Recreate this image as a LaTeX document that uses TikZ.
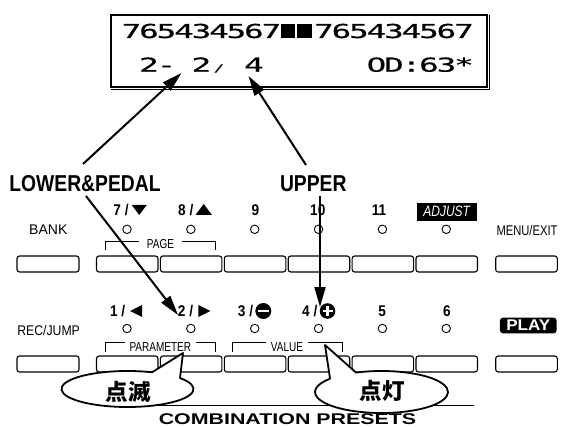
\documentclass[tikz,border=0pt]{standalone}
\usepackage{fontspec}
\usepackage{graphicx}
\usetikzlibrary{arrows.meta}
\setmainfont{Liberation Sans}
\newfontfamily\lcdfont{DejaVu Sans Mono}[FakeStretch=1.7,FakeBold=0.6]
\newfontfamily\narrowfont{Liberation Sans}[FakeStretch=0.8]
\newfontfamily\semifont{Liberation Sans}[FakeStretch=0.875]
\newfontfamily\brkfont{Liberation Sans}[FakeStretch=0.77]
\newfontfamily\condbold{Liberation Sans}[FakeStretch=0.88]
\newfontfamily\callfont{Liberation Sans}[FakeStretch=0.84]
\newfontfamily\widefont{Liberation Sans}[FakeStretch=1.38]
\newfontfamily\cjkfont{Noto Sans CJK JP}
\newcommand\lcdslash{{\fontsize{10}{10}\selectfont/}}
\def\lcdrun#1{\ifx#1\relax\else\makebox[17.5pt][c]{#1}\expandafter\lcdrun\fi}
\begin{document}
\begin{tikzpicture}[x=1pt,y=-1pt,
  btn/.style={draw,line width=1.1pt,rounded corners=2.5pt,minimum width=61.5pt,minimum height=16pt,inner sep=0pt},
  led/.style={draw,circle,line width=0.9pt,minimum size=8.5pt,inner sep=0pt},
  numlbl/.style={font=\condbold\bfseries\fontsize{15.5}{15.5}\selectfont,inner sep=0pt,anchor=base east},
  numc/.style={font=\condbold\bfseries\fontsize{15.5}{15.5}\selectfont,inner sep=0pt,anchor=base},
  brk/.style={line width=0.9pt},
  brklbl/.style={font=\brkfont\fontsize{13}{13}\selectfont,fill=white,inner ysep=1pt,anchor=base},
  sidelbl/.style={inner sep=0pt,anchor=base},
  arr/.style={line width=2pt,-{Triangle[length=20pt,width=11pt]}},
  bubble/.style={draw,fill=white,line width=1.8pt,line join=round},
  callout/.style={font=\callfont\bfseries\fontsize{23}{23}\selectfont,inner sep=0pt,anchor=base},
  lcdtext/.style={font=\lcdfont\fontsize{19.2}{19.2}\selectfont,inner sep=0pt,anchor=base west},
  cjk/.style={font=\cjkfont\bfseries\fontsize{22.5}{22.5}\selectfont,inner sep=0pt}
]
\useasboundingbox (0,0) rectangle (561,427);

% LCD display
\node[draw,line width=2pt,minimum width=376pt,minimum height=72pt,inner sep=0pt] (lcd) at (299,51) {};
\draw[line width=1.4pt] ([xshift=1.6pt,yshift=-1pt]lcd.north east) -- ([xshift=1.6pt,yshift=-1.6pt]lcd.south east) -- ([xshift=1pt,yshift=-1.6pt]lcd.south west);
\node[lcdtext] (l1) at (122.5,38) {\lcdrun 765434567~~765434567\relax};
\fill (280.5,24) rectangle (295,38);
\fill (297,24) rectangle (311.5,38);
\node[lcdtext] (l2) at (122.5,71.7) {\lcdrun ~2-~2\lcdslash~4~~~~~~OD:63*\relax};

% buttons and LEDs
\foreach \i in {0,...,5} {
  \pgfmathsetmacro\bx{127.25+63.9*\i}
  \node[btn] (ub\i) at (\bx,264) {};
  \node[btn] (lb\i) at (\bx,364) {};
  \pgfmathsetmacro\lx{127+63.85*\i}
  \node[led] (ul\i) at (\lx,229.3) {};
  \node[led] (ll\i) at (\lx,328.5) {};
}
\node[btn,minimum width=62pt] (bankbtn) at (48,264) {};
\node[btn,minimum width=61.6pt] (menubtn) at (526.5,264) {};
\node[btn,minimum width=62pt] (recbtn) at (48,364) {};
\node[btn,minimum width=61.6pt] (playbtn) at (526.5,364) {};

% side labels
\node[sidelbl,font=\fontsize{14}{14}\selectfont] (bank) at (48.3,235) {BANK};
\node[sidelbl,font=\narrowfont\fontsize{14}{14}\selectfont] (menu) at (527,235.5) {MENU/EXIT};
\node[sidelbl,font=\semifont\fontsize{14}{14}\selectfont] (rec) at (48.6,335.5) {REC/JUMP};
\node[fill=black,rounded corners=3pt,minimum width=56.7pt,minimum height=15.6pt,inner sep=0pt,text=white,font=\bfseries\fontsize{15.5}{15.5}\selectfont] (play) at (528.3,325.5) {\scalebox{1.1}[1]{PLAY}};
\node[fill=black,minimum width=60pt,minimum height=18pt,inner sep=0pt,text=white,font=\narrowfont\itshape\fontsize{15}{15}\selectfont] (adj) at (446.7,211.7) {ADJUST};

% row 1 number labels
\node[numlbl] (n7) at (128.8,215.5) {7 /};
\fill (131.7,205) -- (146.7,205) -- (139.2,215) -- cycle;
\node[numlbl] (n8) at (193.5,215.5) {8 /};
\fill (195.5,215) -- (212,215) -- (203.7,204) -- cycle;
\node[numc] (n9) at (255.5,215.5) {9};
\node[numc] (n10) at (317.8,215.5) {10};
\node[numc] (n11) at (379,215.5) {11};

% row 2 number labels
\node[numlbl] (n1) at (125.5,316.5) {1 /};
\fill (130,311) -- (142,305) -- (142,317) -- cycle;
\node[numlbl] (n2) at (193.3,316.5) {2 /};
\fill (198.3,305) -- (210.3,311) -- (198.3,317) -- cycle;
\node[numlbl] (n3) at (253.3,316.5) {3 /};
\fill (263.3,311) circle (8pt);
\fill[white] (258,309.8) rectangle (268.6,312.2);
\node[numlbl] (n4) at (317.5,316.5) {4 /};
\fill (327.5,311) circle (7.8pt);
\fill[white] (322.5,309.8) rectangle (332.5,312.2);
\fill[white] (326.3,306) rectangle (328.7,316);
\node[numc] (n5) at (382.2,316.5) {5};
\node[numc] (n6) at (447,316.5) {6};

% brackets
\draw[brk] (105.3,250) -- (105.3,241) -- (215,241) -- (215,250);
\node[brklbl,inner xsep=8pt] (page) at (160.5,248) {PAGE};
\draw[brk] (105,351.5) -- (105,342.5) -- (215,342.5) -- (215,351.5);
\node[brklbl,inner xsep=5pt] (param) at (160.3,351) {PARAMETER};
\draw[brk] (232.3,351.5) -- (232.3,342.5) -- (342.3,342.5) -- (342.3,351.5);
\node[brklbl,inner xsep=5pt] (value) at (287,351) {VALUE};

% bottom rule and title
\draw[line width=1.4pt] (150,405.5) -- (474,405.5);
\node[font=\widefont\bfseries\fontsize{15.5}{15.5}\selectfont,inner sep=0pt,anchor=base] (combo) at (287.5,424.5) {COMBINATION PRESETS};

% callout labels
\node[callout] (lp) at (85,191.7) {LOWER\&PEDAL};
\node[callout] (up) at (313.3,191.7) {UPPER};

% arrows
\coordinate (s1) at (83,164);
\coordinate (t1) at (181.5,73);
\coordinate (s2) at (86,196);
\coordinate (t2) at (178,315);
\coordinate (s3) at (306,165);
\coordinate (t3) at (248.5,76);
\coordinate (s4) at (320,196);
\coordinate (t4) at (320,307);
\draw[arr] (s1) -- (t1);
\draw[arr] (s2) -- (t2);
\draw[arr] (s3) -- (t3);
\draw[arr] (s4) -- (t4);

% speech bubbles
\coordinate (ca) at (127.5,389);
\coordinate (pa) at (183,353);
\draw[bubble] (pa) -- ([shift={(-37.3:66 and 18)}]ca) arc[start angle=-37.3,end angle=291.8,x radius=66,y radius=18] -- cycle;
\node[cjk] (blink) at (128.3,391.7) {点滅};
\coordinate (cb) at (381.5,392);
\coordinate (pb) at (325,345);
\draw[bubble] (pb) -- ([shift={(-112.5:66.5 and 21)}]cb) arc[start angle=-112.5,end angle=219.3,x radius=66.5,y radius=21] -- cycle;
\node[cjk] (lit) at (382,391) {点灯};
\end{tikzpicture}
\end{document}
